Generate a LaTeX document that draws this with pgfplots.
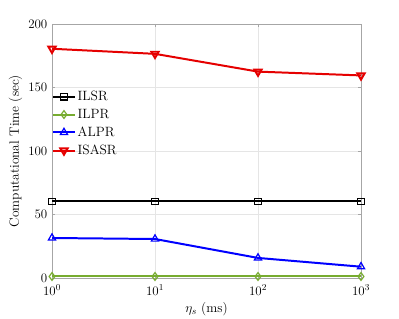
\RequirePackage{fix-cm}
\documentclass[border=0pt]{standalone}
\usepackage{pgfplots}
\pgfplotsset{compat=1.18}
\definecolor{mgreen}{rgb}{0.466,0.674,0.188}
\begin{document}
\fontsize{13.5}{16}\selectfont
\begin{tikzpicture}[font=\fontsize{13.5}{16}\selectfont]
\path[use as bounding box] (-52bp,-41bp) rectangle (347bp,278bp);
\begin{axis}[
  at={(0,0)}, anchor=south west,
  scale only axis, width=309bp, height=254bp,
  xmode=log, xmin=1, xmax=1000, ymin=0, ymax=200,
  xtick={1,10,100,1000},
  ytick={0,50,100,150,200},
  log basis x=10,
  grid=both,
  major grid style={gray!20, line width=0.4pt},
  minor grid style={gray!25, dotted, line width=0.4pt},
  minor y tick num=0,
  axis line style={gray!70, line width=0.6pt},
  tick style={gray!70},
  tick align=inside,
  major tick length=3bp, minor tick length=1.5bp,
  tick label style={font=\fontsize{13}{15}\selectfont},
  xticklabel style={yshift=-2bp},
  label style={font=\fontsize{13.5}{16}\selectfont},
  xlabel={$\eta_s$ (ms)},
  ylabel={Computational Time (sec)},
  xlabel style={yshift=2bp},
  ylabel style={yshift=-3bp},
  legend style={at={(0,0.745)}, anchor=north west, draw=none, fill=none,
    font=\fontsize{13.5}{16}\selectfont, row sep=2.5bp, inner sep=0pt,
    legend cell align=left},
  legend image code/.code={
    \draw[mark repeat=2,mark phase=2] plot coordinates {(0cm,0cm) (0.38cm,0cm) (0.76cm,0cm)};},
  every axis plot/.append style={line width=2pt, mark size=3.3pt, mark options={solid, line width=1.2pt, fill=white}},
]
\addplot[black, line width=2pt, mark=square] coordinates {(1,60.3) (10,60.3) (100,60.3) (1000,60.3)};
\addlegendentry{ILSR}
\addplot[mgreen, line width=2pt, mark=diamond, mark size=3.9pt] coordinates {(1,1.2) (10,1.2) (100,1.2) (1000,1.2)};
\addlegendentry{ILPR}
\addplot[blue, line width=2pt, mark=triangle, mark size=4.2pt] coordinates {(1,31.5) (10,30.7) (100,15.8) (1000,8.9)};
\addlegendentry{ALPR}
\addplot[red!90!black, line width=2pt, mark=triangle, mark options={rotate=180}, mark size=4.2pt] coordinates {(1,180.5) (10,176.5) (100,162.5) (1000,159.5)};
\addlegendentry{ISASR}
\end{axis}
\end{tikzpicture}
\end{document}
